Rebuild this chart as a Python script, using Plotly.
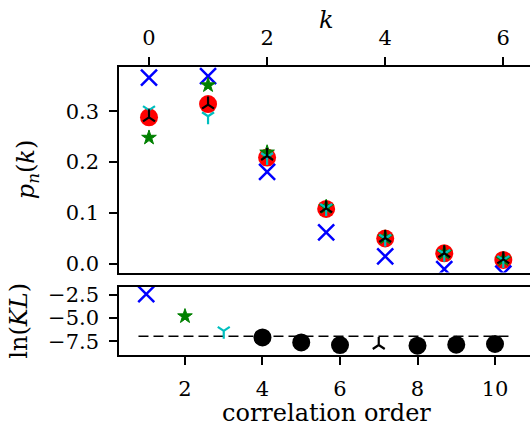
import plotly.graph_objects as go

# ---- data ----
k = [0, 1, 2, 3, 4, 5, 6]
p_data = [0.288, 0.314, 0.209, 0.108, 0.050, 0.021, 0.008]          # red circles
p_order1 = [0.366, 0.369, 0.181, 0.062, 0.015, -0.010, -0.019]      # blue x
p_order2 = [0.248, 0.351, 0.219, 0.112, 0.052, 0.022, 0.009]        # green stars
p_order3 = [0.302, 0.290, 0.210, 0.110, 0.050, 0.020, 0.008]        # cyan tri_down
p_order7 = [0.288, 0.313, 0.212, 0.109, 0.051, 0.021, 0.009]        # black tri_up

orders = [1, 2, 3, 4, 5, 6, 7, 8, 9, 10]
ln_kl = [-2.43, -4.8, -6.37, -7.08, -7.61, -7.89, -7.89, -7.96, -7.85, -7.78]
ref_level_x = [0.8, 10.43]
ref_level_y = [-6.94, -6.94]

top_xticks = [0, 2, 4, 6]
top_yticks = [0.0, 0.1, 0.2, 0.3]
bot_xticks = [2, 4, 6, 8, 10]
bot_yticks = [-2.5, -5.0, -7.5]

W, H = 530, 428
FONT = "DejaVu Serif"
TICKSIZE = 21
LABELSIZE = 24

fig = go.Figure()

# top panel
fig.add_trace(go.Scatter(x=k, y=p_data, mode="markers", xaxis="x", yaxis="y",
                         marker=dict(symbol="circle", size=18, color="#ff0000", opacity=1),
                         showlegend=False))
fig.add_trace(go.Scatter(x=k, y=p_order1, mode="markers", xaxis="x", yaxis="y",
                         marker=dict(symbol="x-thin-open", size=16, color="#0000ff", opacity=1,
                                     line=dict(color="#0000ff", width=2.5)), showlegend=False))
fig.add_trace(go.Scatter(x=k, y=p_order2, mode="markers", xaxis="x", yaxis="y",
                         marker=dict(symbol="star", size=11, color="#008000", opacity=1,
                                     line=dict(color="#008000", width=1)), showlegend=False))
fig.add_trace(go.Scatter(x=k, y=p_order3, mode="markers", xaxis="x", yaxis="y",
                         marker=dict(symbol="y-down-open", size=10, color="#00bfbf", opacity=1,
                                     line=dict(color="#00bfbf", width=2.2)), showlegend=False))
fig.add_trace(go.Scatter(x=k, y=p_order7, mode="markers", xaxis="x", yaxis="y",
                         marker=dict(symbol="y-up-open", size=10, color="black", opacity=1,
                                     line=dict(color="black", width=2.2)), showlegend=False))

# bottom panel
fig.add_trace(go.Scatter(x=ref_level_x, y=ref_level_y, mode="lines", xaxis="x2", yaxis="y2",
                         line=dict(color="black", width=1.5, dash="10px,5px"), showlegend=False))
sym = ["x-thin-open", "star", "y-down-open", "circle", "circle", "circle",
       "y-up-open", "circle", "circle", "circle"]
col = ["#0000ff", "#008000", "#00bfbf", "black", "black", "black",
       "black", "black", "black", "black"]
size = [16, 11, 10, 18, 18, 18, 10, 18, 18, 18]
lw = [2.5, 1, 2.2, 0, 0, 0, 2.2, 0, 0, 0]
fig.add_trace(go.Scatter(x=orders, y=ln_kl, mode="markers", xaxis="x2", yaxis="y2",
                         marker=dict(symbol=sym, size=size, color=col, opacity=1,
                                     line=dict(color=col, width=lw)), showlegend=False))

axis_common = dict(showgrid=False, zeroline=False, showline=True, linecolor="black",
                   linewidth=2, ticks="outside", ticklen=8, tickwidth=2, tickcolor="black",
                   tickfont=dict(family=FONT, size=TICKSIZE, color="black"))

xdom = [119.3 / W, 1.0]
fig.update_layout(
    width=W, height=H,
    margin=dict(l=0, r=0, t=0, b=0),
    paper_bgcolor="white", plot_bgcolor="white",
    xaxis=dict(domain=xdom, anchor="y", side="top", range=[-0.503, 6.452],
               tickvals=top_xticks, mirror=True, ticklabelstandoff=4, **axis_common),
    yaxis=dict(domain=[1 - 274 / H, 1 - 65 / H], anchor="x", range=[-0.0168, 0.3869],
               tickvals=top_yticks, tickformat=".1f", ticklabelstandoff=6, **axis_common),
    xaxis2=dict(domain=xdom, anchor="y2", range=[0.305, 10.903],
                tickvals=bot_xticks, mirror=True, ticklabelstandoff=5, **axis_common),
    yaxis2=dict(domain=[1 - 358.3 / H, 1 - 288.3 / H], anchor="x2", range=[-9.01, -1.612],
                tickvals=bot_yticks, tickformat=".1f", ticklabelstandoff=6, **axis_common),
    annotations=[
        dict(text="<i>k</i>", x=326 / W, y=1 - 17.5 / H, xref="paper", yref="paper",
             showarrow=False, font=dict(family=FONT, size=LABELSIZE, color="black"),
             xanchor="center", yanchor="middle"),
        dict(text="<i>p</i><sub><i>n</i></sub>(<i>k</i>)", x=27 / W, y=1 - 170 / H,
             xref="paper", yref="paper", showarrow=False, textangle=-90,
             font=dict(family=FONT, size=LABELSIZE, color="black"),
             xanchor="center", yanchor="middle"),
        dict(text="ln(<i>KL</i>)", x=19 / W, y=1 - 323 / H,
             xref="paper", yref="paper", showarrow=False, textangle=-90,
             font=dict(family=FONT, size=LABELSIZE, color="black"),
             xanchor="center", yanchor="middle"),
        dict(text="correlation order", x=326 / W, y=-4 / H,
             xref="paper", yref="paper", showarrow=False, borderpad=0,
             font=dict(family=FONT, size=LABELSIZE, color="black"),
             xanchor="center", yanchor="bottom"),
    ],
)

fig.write_html("out.html", config={"displayModeBar": False},
               post_script="document.body.style.margin='0px';")
